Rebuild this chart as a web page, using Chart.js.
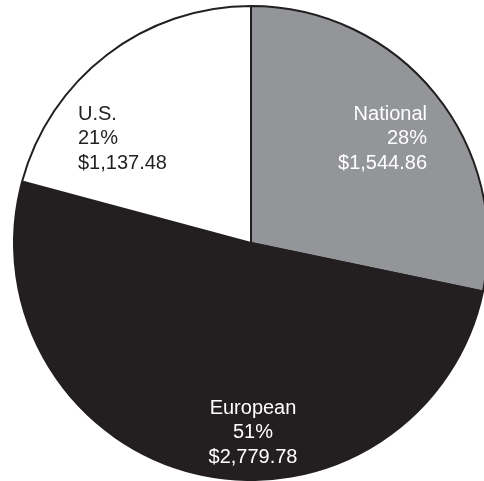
<!DOCTYPE html>
<html>
<head>
<meta charset="utf-8">
<script src="https://cdn.jsdelivr.net/npm/chart.js@4"></script>
<style>
  html, body { margin: 0; padding: 0; background: #fff; overflow: hidden; width: 484px; height: 481px; }
  #grafica { position: absolute; left: 13px; top: 5px; }
</style>
</head>
<body>
<canvas id="grafica" width="476" height="476"></canvas>
<script>
const categorias = ["National", "European", "U.S."];
const importes = [1544.86, 2779.78, 1137.48];
const colores = ["#939598", "#231f20", "#ffffff"];

const total = importes.reduce((a, b) => a + b, 0);
const porcentajes = importes.map(v => Math.round(v / total * 100) + "%");
const textos = importes.map(v => "$" + v.toLocaleString("en-US", { minimumFractionDigits: 2, maximumFractionDigits: 2 }));

// where each label block sits, relative to the pie centre
const etiquetas = [
    { dx: 176, dy: -129, align: "right", color: "#ffffff" },
    { dx: 2, dy: 165, align: "center", color: "#ffffff" },
    { dx: -173, dy: -129, align: "left", color: "#231f20" }
];

const pluginEtiquetas = {
    id: "etiquetas",
    afterDatasetsDraw(chart) {
        const ctx = chart.ctx;
        const arco = chart.getDatasetMeta(0).data[0];
        const cx = arco.x, cy = arco.y;
        ctx.save();
        ctx.font = "20px 'Liberation Sans', Arial, sans-serif";
        ctx.textBaseline = "middle";
        categorias.forEach((cat, i) => {
            const e = etiquetas[i];
            ctx.fillStyle = e.color;
            ctx.textAlign = e.align;
            const lineas = [cat, porcentajes[i], textos[i]];
            lineas.forEach((t, j) => ctx.fillText(t, cx + e.dx, cy + e.dy + j * 24.5));
        });
        ctx.restore();
    }
};

new Chart(document.getElementById("grafica").getContext("2d"), {
    type: "pie",
    data: {
        labels: categorias,
        datasets: [{
            data: importes,
            backgroundColor: colores,
            borderColor: "#231f20",
            borderWidth: 2
        }]
    },
    options: {
        responsive: false,
        animation: false,
        layout: { padding: 0 },
        plugins: {
            legend: { display: false },
            tooltip: { enabled: false }
        }
    },
    plugins: [pluginEtiquetas]
});
</script>
</body>
</html>
